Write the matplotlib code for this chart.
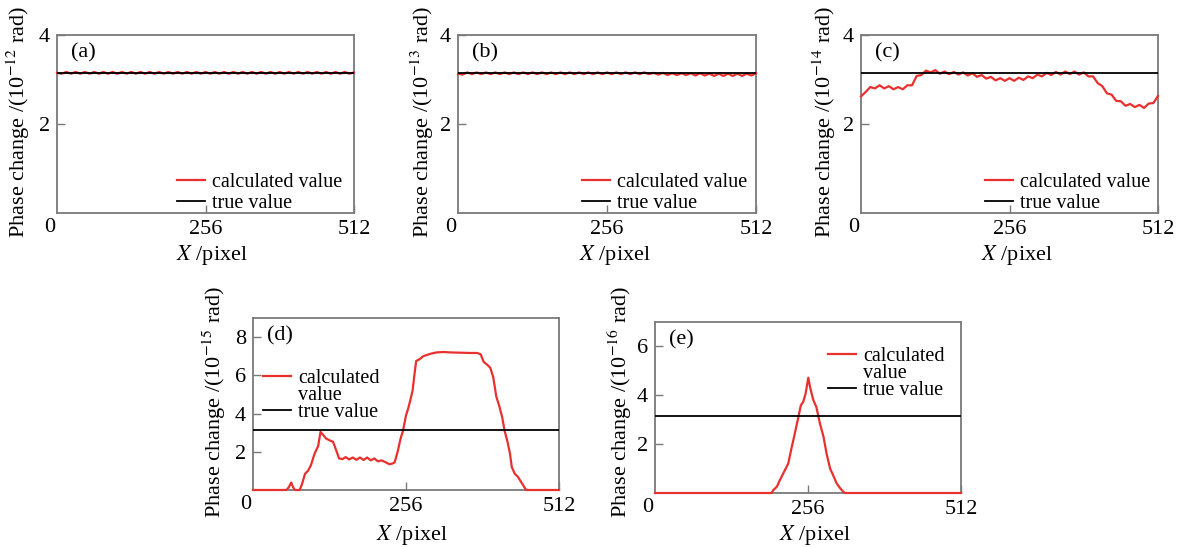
import matplotlib
matplotlib.use('Agg')
import matplotlib.pyplot as plt
from matplotlib.lines import Line2D

plt.rcParams['font.family'] = ['Liberation Serif', 'DejaVu Serif']
plt.rcParams['mathtext.fontset'] = 'stix'

# ---------------- data ----------------
TRUE_VALUE = 3.14

x_grid = [0, 8, 16, 24, 32, 40, 48, 56, 64, 72, 80, 88, 96, 104, 112, 120,
          128, 136, 144, 152, 160, 168, 176, 184, 192, 200, 208, 216, 224, 232,
          240, 248, 256, 264, 272, 280, 288, 296, 304, 312, 320, 328, 336, 344,
          352, 360, 368, 376, 384, 392, 400, 408, 416, 424, 432, 440, 448, 456,
          464, 472, 480, 488, 496, 504, 512]

a_calc = [3.15, 3.13, 3.17, 3.13, 3.17, 3.13, 3.17, 3.13, 3.17, 3.13,
          3.17, 3.13, 3.17, 3.13, 3.17, 3.13, 3.17, 3.13, 3.17, 3.13,
          3.17, 3.13, 3.17, 3.13, 3.17, 3.13, 3.17, 3.13, 3.17, 3.13,
          3.17, 3.13, 3.17, 3.13, 3.17, 3.13, 3.17, 3.13, 3.17, 3.13,
          3.17, 3.13, 3.17, 3.13, 3.17, 3.13, 3.17, 3.13, 3.17, 3.13,
          3.17, 3.13, 3.17, 3.13, 3.17, 3.13, 3.17, 3.13, 3.17, 3.13,
          3.17, 3.13, 3.17, 3.13, 3.16]

b_calc = [3.13, 3.11, 3.16, 3.12, 3.16, 3.12, 3.16, 3.12, 3.16, 3.12,
          3.16, 3.12, 3.16, 3.12, 3.16, 3.12, 3.16, 3.12, 3.16, 3.12,
          3.16, 3.12, 3.16, 3.12, 3.16, 3.12, 3.16, 3.12, 3.16, 3.12,
          3.16, 3.12, 3.16, 3.12, 3.16, 3.12, 3.16, 3.12, 3.16, 3.12,
          3.16, 3.12, 3.15, 3.11, 3.15, 3.10, 3.14, 3.10, 3.14, 3.10,
          3.14, 3.09, 3.14, 3.09, 3.13, 3.08, 3.13, 3.08, 3.13, 3.08,
          3.13, 3.08, 3.13, 3.09, 3.14]

c_calc = [2.62, 2.72, 2.83, 2.80, 2.87, 2.80, 2.85, 2.78, 2.83, 2.78,
          2.87, 2.87, 3.08, 3.10, 3.20, 3.16, 3.21, 3.13, 3.18, 3.12,
          3.17, 3.11, 3.16, 3.09, 3.14, 3.06, 3.10, 3.02, 3.06, 2.98,
          3.03, 2.97, 3.03, 2.97, 3.04, 2.99, 3.07, 3.03, 3.11, 3.07,
          3.15, 3.10, 3.17, 3.11, 3.18, 3.12, 3.18, 3.11, 3.16, 3.07,
          3.07, 2.92, 2.85, 2.69, 2.66, 2.52, 2.51, 2.41, 2.45, 2.38,
          2.43, 2.36, 2.46, 2.47, 2.63]

d_x = [0, 56, 60, 64, 67, 70, 78, 82, 87, 92, 97, 103, 109, 113, 117, 122,
       128, 134, 139, 144, 150, 155, 161, 167, 173, 179, 185, 191, 197, 203,
       209, 215, 222, 228, 233, 237, 242, 247, 251, 256, 260, 264, 267, 270,
       273, 279, 285, 296, 307, 318, 330, 340, 352, 363, 375, 381, 386, 392,
       397, 402, 407, 412, 417, 421, 426, 430, 433, 438, 443, 448, 453, 457, 512]
d_calc = [0, 0, 0.15, 0.39, 0.15, 0, 0, 0.3, 0.85, 1.0, 1.3, 1.9, 2.3, 3.04,
          2.9, 2.7, 2.6, 2.52, 2.1, 1.65, 1.62, 1.72, 1.60, 1.70, 1.58, 1.70,
          1.57, 1.70, 1.55, 1.65, 1.50, 1.55, 1.45, 1.35, 1.38, 1.45, 2.0, 2.7,
          3.1, 3.9, 4.3, 4.8, 5.2, 6.0, 6.75, 6.85, 7.0, 7.12, 7.2, 7.22, 7.2,
          7.19, 7.18, 7.17, 7.17, 7.1, 6.7, 6.55, 6.4, 5.9, 4.9, 4.4, 3.8, 3.1,
          2.5, 1.9, 1.2, 0.85, 0.7, 0.45, 0.2, 0, 0]

e_x = [0, 195, 198, 204, 209, 216, 223, 229, 234, 240, 244, 248, 252, 256.5,
       260, 265, 270, 276, 282, 287, 293, 298, 304, 310, 315, 318, 512]
e_calc = [0, 0, 0.12, 0.26, 0.53, 0.87, 1.21, 1.9, 2.44, 3.12, 3.59, 3.73,
          4.07, 4.72, 4.27, 3.8, 3.52, 2.84, 2.3, 1.62, 1.0, 0.73, 0.39, 0.19,
          0.05, 0, 0]

x_ticks = [256, 512]
x_tick_labels = ['256', '512']

# ---------------- style ----------------
FS_LEG = 14.5
FS_TICK = 16
FS_LAB = 16
RED = '#e8302e'
GRAY = '#7a7a7a'
W, H = 1178, 547

fig = plt.figure(figsize=(W / 100, H / 100), dpi=100)


def px_axes(l, t, r, b):
    return fig.add_axes([l / W, 1 - b / H, (r - l) / W, (b - t) / H])


panels = [
    dict(box=(57, 35, 354, 213), x=x_grid, y=a_calc, ymax=4, yt=[2, 4], tag='(a)',
         exp='-12', yl=(18, 238), xl=(212, 255), leg=(0.404, 0.113), split=False, ls=0.08),
    dict(box=(458, 35, 756, 213), x=x_grid, y=b_calc, ymax=4, yt=[2, 4], tag='(b)',
         exp='-13', yl=(422, 238), xl=(615, 255), leg=(0.415, 0.113), split=False, ls=0.08),
    dict(box=(861, 35, 1158, 213), x=x_grid, y=c_calc, ymax=4, yt=[2, 4], tag='(c)',
         exp='-14', yl=(824, 238), xl=(1017, 255), leg=(0.418, 0.113), split=False, ls=0.08),
    dict(box=(253, 318, 559, 490), x=d_x, y=d_calc, ymax=9, yt=[2, 4, 6, 8], tag='(d)',
         exp='-15', yl=(214, 518), xl=(412, 535), leg=(0.033, 0.55), split=True, ls=-0.09),
    dict(box=(655, 322, 961, 493), x=e_x, y=e_calc, ymax=7, yt=[2, 4, 6], tag='(e)',
         exp='-16', yl=(620, 518), xl=(815, 535), leg=(0.565, 0.70), split=True, ls=-0.09),
]

for p in panels:
    ax = px_axes(*p['box'])
    red, = ax.plot(p['x'], p['y'], color=RED, lw=1.6, clip_on=False, zorder=3,
                   solid_joinstyle='round')
    blk = ax.axhline(TRUE_VALUE, color='black', lw=1.3, zorder=4)
    ax.set_xlim(0, 512)
    ax.set_ylim(0, p['ymax'])
    ax.set_xticks(x_ticks)
    ax.set_xticklabels(x_tick_labels)
    ax.set_yticks(p['yt'])
    ax.set_yticklabels([str(v) for v in p['yt']])
    ax.tick_params(direction='in', length=6, width=1, color=GRAY, labelsize=FS_TICK, pad=5)
    for s in ax.spines.values():
        s.set_color(GRAY)
        s.set_linewidth(1.3)
    # corner zero
    ax.annotate('0', xy=(0, 0), xycoords='axes fraction', xytext=(-1.5, -3.5),
                textcoords='offset points', ha='right', va='top', fontsize=FS_TICK)
    # panel tag
    ax.annotate(p['tag'], xy=(0, 1), xycoords='axes fraction', xytext=(10, -13),
                textcoords='offset points', ha='left', va='center', fontsize=FS_LAB)
    # axis labels
    fig.text(p['yl'][0] / W, 1 - p['yl'][1] / H,
             r'Phase change /(10$^{%s}$ rad)' % p['exp'],
             rotation=90, ha='center', va='bottom', fontsize=FS_LAB)
    fig.text(p['xl'][0] / W, 1 - p['xl'][1] / H, r'$X$ /pixel',
             ha='center', va='center', fontsize=FS_LAB)
    # legend
    if p['split']:
        blank = Line2D([], [], color='none')
        handles = [red, blank, blk]
        labels = ['calculated', 'value', 'true value']
    else:
        handles = [red, blk]
        labels = ['calculated value', 'true value']
    ax.legend(handles, labels, loc='center left', bbox_to_anchor=p['leg'],
              frameon=False, fontsize=FS_LEG, handlelength=1.4, handletextpad=0.35,
              labelspacing=p['ls'], borderpad=0, borderaxespad=0)

fig.savefig('out.png', dpi=100)
